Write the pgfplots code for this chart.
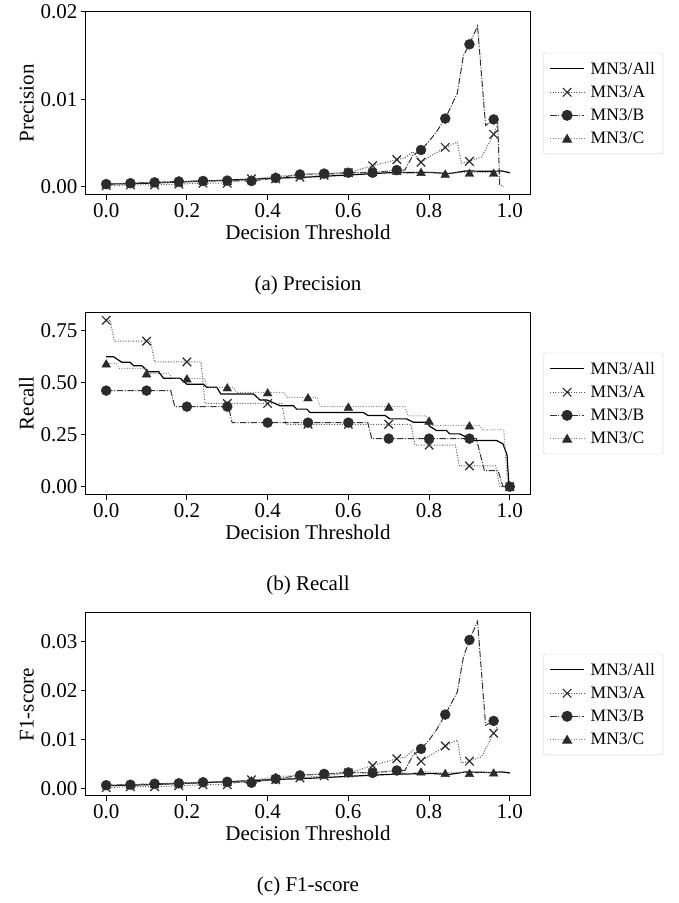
\documentclass[border=0pt]{standalone}
\usepackage{fontspec}
\setmainfont{Liberation Serif}
\usepackage{pgfplots}
\pgfplotsset{compat=1.18}

\definecolor{mk}{HTML}{2B2B2B}
\definecolor{lnA}{HTML}{555555}
\definecolor{lnB}{HTML}{333333}
\definecolor{lnC}{HTML}{808080}

\newcommand{\bigfont}{\fontsize{21}{24}\selectfont}

\pgfplotsset{
  panel/.style={
    scale only axis, width=444pt, height=183pt,
    xmin=-0.05, xmax=1.05,
    xtick={0,0.2,0.4,0.6,0.8,1.0},
    tick align=outside, tick pos=left, major tick length=5pt,
    axis line style={line width=1pt},
    tick style={line width=1pt, black},
    tick label style={font=\bigfont},
    label style={font=\bigfont},
    /pgf/number format/assume math mode=true,
    xticklabel style={/pgf/number format/.cd, fixed, fixed zerofill, precision=1},
    yticklabel style={/pgf/number format/.cd, fixed, fixed zerofill, precision=2},
    scaled ticks=false,
    xlabel={Decision Threshold},
    legend style={at={(1.03,0.5)}, anchor=west, draw=black!20, rounded corners=2pt,
      font=\fontsize{17.5}{20}\selectfont, row sep=6pt, column sep=4pt,
      inner xsep=6pt, inner ysep=7pt},
    legend cell align=left,
    legend image code/.code={\draw[mark repeat=2,mark phase=2,##1] plot coordinates {(0pt,0pt) (17pt,0pt) (34pt,0pt)};},
  },
  sAll/.style={black, line width=1.2pt, mark=none},
  sA/.style={lnA, line width=1pt, dash pattern=on 1pt off 1.6pt},
  sB/.style={lnB, line width=1pt, dash pattern=on 6.4pt off 1.6pt on 1pt off 1.6pt},
  sC/.style={lnC, line width=1pt, dash pattern=on 1pt off 1.6pt},
  mA/.style={mark=x, mark size=6pt, mark options={solid, draw=mk, line width=1.2pt}},
  mB/.style={mark=*, mark size=5pt, mark options={solid, draw=mk, fill=mk}},
  mC/.style={mark=triangle*, mark size=5pt, mark options={solid, draw=mk, fill=mk, yshift=-1.25pt}},
}

\begin{document}
\begin{tikzpicture}
\useasboundingbox (0,0) rectangle (678pt,903pt);

% (a) precision
\begin{axis}[panel, at={(86pt,708pt)}, anchor=south west,
  ymin=-0.00095, ymax=0.02, ytick={0,0.01,0.02}, ylabel={Precision}]
  \addlegendimage{sAll}\addlegendentry{MN3/All}
  \addlegendimage{sA,mA}\addlegendentry{MN3/A}
  \addlegendimage{sB,mB}\addlegendentry{MN3/B}
  \addlegendimage{sC,mC}\addlegendentry{MN3/C}
  \addplot[sAll, forget plot] coordinates {(0,0.0003)(0.1,0.0004)(0.2,0.00057)(0.3,0.00075)(0.4,0.00095)(0.5,0.0011)(0.6,0.00134)(0.7,0.0016)(0.8,0.00164)(0.85,0.0015)(0.89,0.0018)(0.95,0.00176)(0.98,0.0018)(1.0,0.0016)};
  \addplot[sA, forget plot] coordinates {(0,0.0001)(0.06,0.0002)(0.12,0.0002)(0.18,0.0003)(0.24,0.0004)(0.30,0.0004)(0.33,0.0007)(0.36,0.0009)(0.42,0.0009)(0.48,0.0011)(0.54,0.0013)(0.60,0.0016)(0.66,0.0024)(0.72,0.0031)(0.74,0.0033)(0.76,0.0040)(0.78,0.0028)(0.80,0.0034)(0.84,0.0045)(0.87,0.0051)(0.88,0.0027)(0.90,0.0029)(0.93,0.0034)(0.96,0.0060)(0.97,0.0072)};
  \addplot[mA, only marks, forget plot] coordinates {(0,0.0001)(0.06,0.0002)(0.12,0.0002)(0.18,0.0003)(0.24,0.0004)(0.30,0.0004)(0.36,0.0009)(0.42,0.0009)(0.48,0.0011)(0.54,0.0013)(0.60,0.0016)(0.66,0.0024)(0.72,0.0031)(0.78,0.0028)(0.84,0.0045)(0.90,0.0029)(0.96,0.0060)};
  \addplot[sB, forget plot] coordinates {(0,0.0003)(0.06,0.0004)(0.12,0.0005)(0.18,0.0006)(0.24,0.00066)(0.30,0.0007)(0.36,0.00065)(0.42,0.0010)(0.48,0.0014)(0.54,0.0015)(0.60,0.0016)(0.66,0.0016)(0.72,0.0019)(0.74,0.0019)(0.76,0.0036)(0.78,0.0042)(0.80,0.0052)(0.82,0.0064)(0.84,0.0078)(0.87,0.0107)(0.885,0.0150)(0.90,0.0163)(0.92,0.0184)(0.94,0.0070)(0.96,0.0077)(0.97,0.0074)(0.975,0.0002)(0.985,0)};
  \addplot[mB, only marks, forget plot] coordinates {(0,0.0003)(0.06,0.0004)(0.12,0.0005)(0.18,0.0006)(0.24,0.00066)(0.30,0.0007)(0.36,0.00065)(0.42,0.0010)(0.48,0.0014)(0.54,0.0015)(0.60,0.0016)(0.66,0.0016)(0.72,0.0019)(0.78,0.0042)(0.84,0.0078)(0.90,0.0163)(0.96,0.0077)};
  \addplot[sC, forget plot] coordinates {(0,0.0003)(0.06,0.0004)(0.12,0.00046)(0.18,0.0005)(0.24,0.0007)(0.30,0.00065)(0.36,0.00085)(0.42,0.0012)(0.48,0.0014)(0.54,0.0015)(0.60,0.0016)(0.66,0.0017)(0.72,0.0018)(0.75,0.0015)(0.78,0.0017)(0.84,0.0015)(0.87,0.0016)(0.90,0.0016)(0.96,0.0016)(0.98,0.0017)};
  \addplot[mC, only marks, forget plot] coordinates {(0,0.0003)(0.06,0.0004)(0.12,0.00046)(0.18,0.0005)(0.24,0.0007)(0.30,0.00065)(0.36,0.00085)(0.42,0.0012)(0.48,0.0014)(0.54,0.0015)(0.60,0.0016)(0.66,0.0017)(0.72,0.0018)(0.78,0.0017)(0.84,0.0015)(0.90,0.0016)(0.96,0.0016)};
\end{axis}

% (b) recall
\begin{axis}[panel, at={(86pt,408pt)}, anchor=south west,
  ymin=-0.04, ymax=0.84, ytick={0,0.25,0.5,0.75}, ylabel={Recall}]
  \addlegendimage{sAll}\addlegendentry{MN3/All}
  \addlegendimage{sA,mA}\addlegendentry{MN3/A}
  \addlegendimage{sB,mB}\addlegendentry{MN3/B}
  \addlegendimage{sC,mC}\addlegendentry{MN3/C}
  \addplot[sAll, forget plot] coordinates {(0,0.625)(0.018,0.625)(0.039,0.598)(0.059,0.598)(0.068,0.582)(0.088,0.582)(0.105,0.553)(0.13,0.553)(0.142,0.521)(0.183,0.521)(0.2,0.4925)(0.241,0.4925)(0.249,0.478)(0.274,0.478)(0.284,0.446)(0.365,0.446)(0.381,0.417)(0.398,0.417)(0.431,0.389)(0.464,0.389)(0.472,0.373)(0.497,0.373)(0.505,0.357)(0.637,0.357)(0.649,0.342)(0.691,0.342)(0.703,0.326)(0.744,0.326)(0.761,0.310)(0.794,0.310)(0.802,0.290)(0.818,0.270)(0.843,0.270)(0.851,0.254)(0.876,0.254)(0.893,0.237)(0.909,0.222)(0.967,0.222)(0.983,0.206)(0.993,0.154)(0.998,0)(1.0,0)};
  \addplot[sA, forget plot] coordinates {(0,0.8)(0.01,0.8)(0.02,0.7)(0.11,0.7)(0.12,0.6)(0.235,0.6)(0.245,0.4)(0.435,0.4)(0.445,0.3)(0.755,0.3)(0.765,0.2)(0.865,0.2)(0.875,0.1)(0.965,0.1)(0.975,0)(1.0,0)};
  \addplot[mA, only marks, forget plot] coordinates {(0,0.8)(0.1,0.7)(0.2,0.6)(0.3,0.4)(0.4,0.4)(0.5,0.3)(0.6,0.3)(0.7,0.3)(0.8,0.2)(0.9,0.1)(1.0,0)};
  \addplot[sB, forget plot] coordinates {(0,0.462)(0.16,0.462)(0.17,0.385)(0.303,0.385)(0.312,0.308)(0.648,0.308)(0.658,0.231)(0.917,0.231)(0.937,0.077)(0.971,0.077)(0.983,0)(1.0,0)};
  \addplot[mB, only marks, forget plot] coordinates {(0,0.462)(0.1,0.462)(0.2,0.385)(0.3,0.385)(0.4,0.308)(0.5,0.308)(0.6,0.308)(0.7,0.231)(0.8,0.231)(0.9,0.231)(1.0,0)};
  \addplot[sC, forget plot] coordinates {(0,0.593)(0.025,0.593)(0.033,0.569)(0.1,0.569)(0.108,0.545)(0.155,0.545)(0.163,0.521)(0.243,0.521)(0.251,0.478)(0.315,0.478)(0.323,0.454)(0.44,0.454)(0.448,0.43)(0.522,0.43)(0.53,0.385)(0.74,0.385)(0.748,0.341)(0.792,0.341)(0.8,0.318)(0.808,0.295)(0.925,0.295)(0.933,0.273)(0.985,0.273)(0.995,0)(1.0,0)};
  \addplot[mC, only marks, forget plot] coordinates {(0,0.593)(0.1,0.545)(0.2,0.521)(0.3,0.478)(0.4,0.454)(0.5,0.43)(0.6,0.385)(0.7,0.385)(0.8,0.318)(0.9,0.295)(1.0,0)};
\end{axis}

% (c) F1-score
\begin{axis}[panel, at={(86pt,107pt)}, anchor=south west,
  ymin=-0.0015, ymax=0.0358, ytick={0,0.01,0.02,0.03}, ylabel={F1-score}]
  \addlegendimage{sAll}\addlegendentry{MN3/All}
  \addlegendimage{sA,mA}\addlegendentry{MN3/A}
  \addlegendimage{sB,mB}\addlegendentry{MN3/B}
  \addlegendimage{sC,mC}\addlegendentry{MN3/C}
  \addplot[sAll, forget plot] coordinates {(0,0.0006)(0.1,0.0008)(0.2,0.0011)(0.3,0.0014)(0.4,0.0018)(0.5,0.0021)(0.6,0.0025)(0.7,0.0029)(0.8,0.0031)(0.85,0.0029)(0.89,0.0034)(0.95,0.0033)(0.98,0.0034)(1.0,0.0032)};
  \addplot[sA, forget plot] coordinates {(0,0.0002)(0.06,0.0004)(0.12,0.0004)(0.18,0.0006)(0.24,0.0008)(0.30,0.0008)(0.33,0.0014)(0.36,0.0018)(0.42,0.0018)(0.48,0.0022)(0.54,0.0026)(0.60,0.0032)(0.66,0.0047)(0.72,0.0061)(0.74,0.0064)(0.76,0.0078)(0.78,0.0056)(0.80,0.0066)(0.84,0.0087)(0.87,0.0099)(0.88,0.0052)(0.90,0.0056)(0.93,0.0065)(0.96,0.0113)(0.97,0.0128)};
  \addplot[mA, only marks, forget plot] coordinates {(0,0.0002)(0.06,0.0004)(0.12,0.0004)(0.18,0.0006)(0.24,0.0008)(0.30,0.0008)(0.36,0.0018)(0.42,0.0018)(0.48,0.0022)(0.54,0.0026)(0.60,0.0032)(0.66,0.0047)(0.72,0.0061)(0.78,0.0056)(0.84,0.0087)(0.90,0.0056)(0.96,0.0113)};
  \addplot[sB, forget plot] coordinates {(0,0.0007)(0.06,0.0008)(0.12,0.0010)(0.18,0.0011)(0.24,0.0013)(0.30,0.0014)(0.36,0.0012)(0.42,0.0020)(0.48,0.0027)(0.54,0.0030)(0.60,0.0033)(0.66,0.0032)(0.72,0.0037)(0.74,0.0037)(0.76,0.0068)(0.78,0.0081)(0.80,0.0099)(0.82,0.0122)(0.84,0.0151)(0.87,0.0197)(0.885,0.0268)(0.90,0.0303)(0.92,0.0341)(0.94,0.0129)(0.96,0.0138)(0.97,0.0135)};
  \addplot[mB, only marks, forget plot] coordinates {(0,0.0007)(0.06,0.0008)(0.12,0.0010)(0.18,0.0011)(0.24,0.0013)(0.30,0.0014)(0.36,0.0012)(0.42,0.0020)(0.48,0.0027)(0.54,0.0030)(0.60,0.0033)(0.66,0.0032)(0.72,0.0037)(0.78,0.0081)(0.84,0.0151)(0.90,0.0303)(0.96,0.0138)};
  \addplot[sC, forget plot] coordinates {(0,0.0007)(0.06,0.0008)(0.12,0.0009)(0.18,0.0010)(0.24,0.0014)(0.30,0.0013)(0.36,0.0017)(0.42,0.0024)(0.48,0.0028)(0.54,0.0030)(0.60,0.0032)(0.66,0.0034)(0.72,0.0036)(0.75,0.0030)(0.78,0.0035)(0.84,0.0032)(0.87,0.0033)(0.90,0.0032)(0.96,0.0033)(0.98,0.0034)};
  \addplot[mC, only marks, forget plot] coordinates {(0,0.0007)(0.06,0.0008)(0.12,0.0009)(0.18,0.0010)(0.24,0.0014)(0.30,0.0013)(0.36,0.0017)(0.42,0.0024)(0.48,0.0028)(0.54,0.0030)(0.60,0.0032)(0.66,0.0034)(0.72,0.0036)(0.78,0.0035)(0.84,0.0032)(0.90,0.0032)(0.96,0.0033)};
\end{axis}

\node[anchor=base, font=\bigfont] at (308pt,612pt) {(a) Precision};
\node[anchor=base, font=\bigfont] at (308pt,312pt) {(b) Recall};
\node[anchor=base, font=\bigfont] at (308pt,12pt) {(c) F1-score};
\end{tikzpicture}
\end{document}
